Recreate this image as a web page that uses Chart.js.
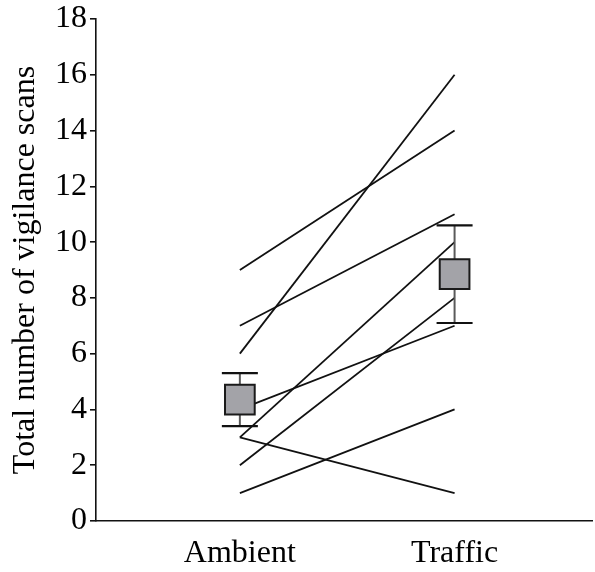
<!DOCTYPE html>
<html>
<head>
<meta charset="utf-8">
<script src="https://cdn.jsdelivr.net/npm/chart.js@4/dist/chart.umd.min.js"></script>
<style>
  body { margin: 0; background: #fff; }
</style>
</head>
<body>
<canvas id="scanChart" width="595" height="572"></canvas>
<script>
// categories and per-subject values (Ambient -> Traffic)
const categories = ['Ambient', 'Traffic'];
const ambientScans = [9, 7, 6, 4, 3, 3, 2, 1];
const trafficScans = [14, 11, 16, 7, 10, 1, 8, 4];

// mean +/- error per category
const meanScans = [4.35, 8.85];
const errLow = [3.4, 7.1];
const errHigh = [5.3, 10.6];

const yTicks = [0, 2, 4, 6, 8, 10, 12, 14, 16, 18];

const serif = "'Liberation Serif', 'Times New Roman', serif";

// one line per subject
const subjectSets = ambientScans.map((a, i) => ({
    type: 'line',
    data: [{ x: 1, y: a }, { x: 2, y: trafficScans[i] }],
    borderColor: '#111',
    borderWidth: 1.8,
    pointRadius: 0,
    fill: false,
    order: 1
}));

const meanSet = {
    type: 'scatter',
    data: meanScans.map((m, i) => ({ x: i + 1, y: m })),
    pointStyle: 'rect',
    pointRadius: 21,
    pointBackgroundColor: '#a3a3a8',
    pointBorderColor: '#1a1a1a',
    pointBorderWidth: 2,
    order: -1
};

// error bars drawn just before the mean boxes
const errorBars = {
    id: 'errorBars',
    beforeDatasetDraw(chart, args) {
        if (args.meta.type !== 'scatter') return;
        const { ctx, scales: { x, y } } = chart;
        ctx.save();
        meanScans.forEach((m, i) => {
            const px = x.getPixelForValue(i + 1);
            const top = y.getPixelForValue(errHigh[i]);
            const bot = y.getPixelForValue(errLow[i]);
            ctx.strokeStyle = '#5a5a5a';
            ctx.lineWidth = 2;
            ctx.beginPath();
            ctx.moveTo(px, top);
            ctx.lineTo(px, bot);
            ctx.stroke();
            ctx.strokeStyle = '#111';
            ctx.lineWidth = 2.2;
            ctx.beginPath();
            ctx.moveTo(px - 18, top);
            ctx.lineTo(px + 18, top);
            ctx.moveTo(px - 18, bot);
            ctx.lineTo(px + 18, bot);
            ctx.stroke();
        });
        ctx.restore();
    }
};

const ctx = document.getElementById('scanChart').getContext('2d');
new Chart(ctx, {
    data: { datasets: [meanSet, ...subjectSets] },
    options: {
        responsive: false,
        animation: false,
        layout: { autoPadding: false, padding: { top: 19, right: 3, left: 0, bottom: 0 } },
        plugins: { legend: { display: false }, tooltip: { enabled: false } },
        scales: {
            x: {
                type: 'linear',
                min: 0.33,
                max: 2.64,
                afterBuildTicks: (scale) => {
                    scale.ticks = categories.map((c, i) => ({ value: i + 1 }));
                },
                afterFit: (scale) => {
                    scale.height = 51;
                    scale.paddingLeft = 0;
                    scale.paddingRight = 0;
                },
                grid: { drawOnChartArea: false, drawTicks: false },
                border: { color: '#111', width: 1.6 },
                ticks: {
                    padding: 13,
                    color: '#000',
                    font: { family: serif, size: 32 },
                    callback: (v) => categories[v - 1]
                }
            },
            y: {
                min: 0,
                max: 18,
                afterBuildTicks: (scale) => {
                    scale.ticks = yTicks.map(v => ({ value: v }));
                },
                afterFit: (scale) => {
                    scale.width = 96;
                    scale.paddingTop = 0;
                    scale.paddingBottom = 0;
                },
                grid: { drawOnChartArea: false, drawTicks: true, tickLength: 6, color: '#111', lineWidth: 1.6 },
                border: { color: '#111', width: 1.6 },
                ticks: {
                    padding: 3,
                    color: '#000',
                    font: { family: serif, size: 32 }
                },
                title: {
                    display: true,
                    text: 'Total number of vigilance scans',
                    color: '#000',
                    font: { family: serif, size: 32, lineHeight: 1 },
                    padding: { top: 10, bottom: 0 }
                }
            }
        }
    },
    plugins: [errorBars]
});
</script>
</body>
</html>
